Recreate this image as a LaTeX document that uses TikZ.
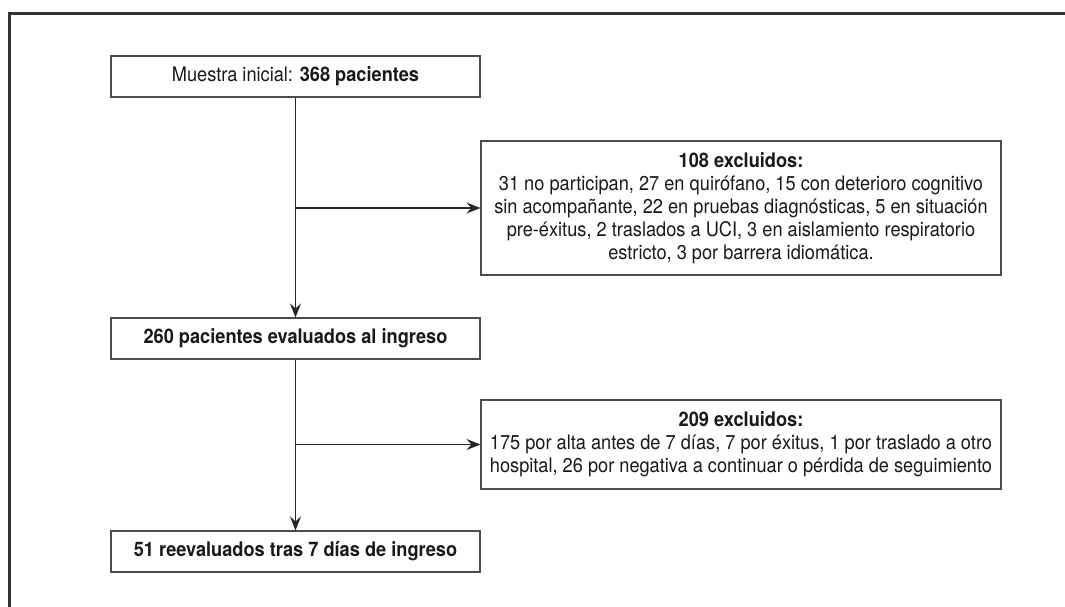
\documentclass[tikz,border=0pt]{standalone}
\usepackage{fontspec}
\setmainfont[FakeStretch=0.91]{TeX Gyre Heros}
\usetikzlibrary{arrows.meta}
\tikzset{
  box/.style={draw=black!70, line width=1.1pt, minimum width=369pt, minimum height=41pt, inner sep=0pt, align=center, text=black!90, font=\fontsize{20}{23}\selectfont},
  exbox/.style={draw=black!70, line width=1.1pt, minimum width=520pt, inner sep=0pt, align=center, text=black!90, font=\fontsize{20}{23}\selectfont},
  conn/.style={draw=black!85, line width=1.3pt},
  arr/.style={conn, -{Stealth[length=14pt, width=11pt, inset=5pt]}},
  frame/.style={draw=black!80, line width=2.6pt}
}
\begin{document}
\begin{tikzpicture}[x=1pt,y=1pt]
\useasboundingbox (0,0) rectangle (1065,-606);
\fill[white] (0,0) rectangle (1065,-606);
\draw[frame] (9.5,-610) -- (9.5,-13.5) -- (1070,-13.5);
\node[box] (b1) at (295.5,-76.5) {Muestra inicial: \textbf{368 pacientes}};
\node[box] (b2) at (295.5,-338.5) {\textbf{260 pacientes evaluados al ingreso}};
\node[box] (b3) at (295.5,-551.5) {\textbf{51 reevaluados tras 7 días de ingreso}};
\node[exbox, minimum height=134pt] (e1) at (741,-208) {\textbf{108 excluidos:}\\31 no participan, 27 en quirófano, 15 con deterioro cognitivo\\sin acompañante, 22 en pruebas diagnósticas, 5 en situación\\pre-éxitus, 2 traslados a UCI, 3 en aislamiento respiratorio\\estricto, 3 por barrera idiomática.};
\node[exbox, minimum height=89pt] (e2) at (741,-444.5) {\textbf{209 excluidos:}\\175 por alta antes de 7 días, 7 por éxitus, 1 por traslado a otro\\hospital, 26 por negativa a continuar o pérdida de seguimiento};
\coordinate (j1) at (b1.south |- e1.west);
\coordinate (j2) at (b2.south |- e2.west);
\draw[arr] (b1.south) -- (b2.north);
\draw[arr] (j1) -- (e1.west);
\draw[arr] (b2.south) -- (b3.north);
\draw[arr] (j2) -- (e2.west);
\end{tikzpicture}
\end{document}
